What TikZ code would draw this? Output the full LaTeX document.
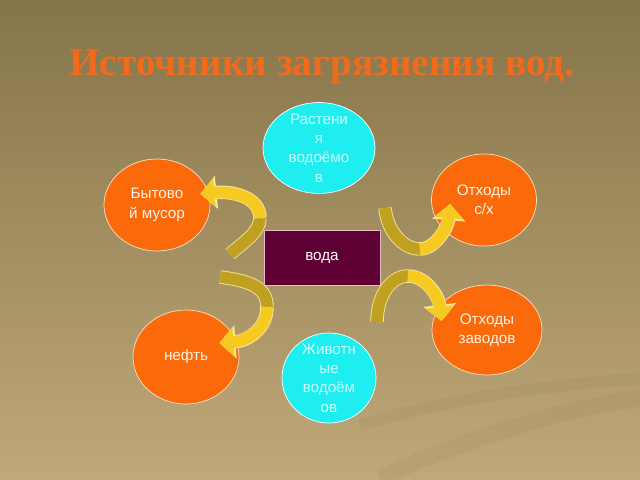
\documentclass[tikz,border=0pt]{standalone}
\usepackage{fontspec}
\setmainfont{Liberation Sans}
\newfontfamily\titlefont{Liberation Serif}
\usetikzlibrary{shapes.geometric,arrows.meta,calc}

\definecolor{bgtop}{HTML}{85754A}
\definecolor{bgbot}{HTML}{C0A878}
\definecolor{titleorange}{HTML}{F26A1C}
\definecolor{spotorange}{HTML}{FA6A0A}
\definecolor{orangeedge}{HTML}{F8E2C0}
\definecolor{orangetext}{HTML}{FFF2E6}
\definecolor{spotcyan}{HTML}{1EEEF0}
\definecolor{cyantext}{HTML}{C8FFFF}
\definecolor{watermaroon}{HTML}{5E0034}
\definecolor{wateredge}{HTML}{E8B8C8}
\definecolor{bandolive}{HTML}{BFA020}
\definecolor{bandyellow}{HTML}{F7CA22}
\definecolor{bandedge}{HTML}{F6E59A}

\tikzset{
  spot/.style={ellipse, line width=0.6pt, inner sep=0pt},
  orangespot/.style={spot, fill=spotorange, draw=orangeedge,
    label={[text=orangetext, align=center, font=\fontsize{13}{16.5}\selectfont]center:{#1}}},
  cyanspot/.style={spot, fill=spotcyan, draw=white,
    label={[text=cyantext, align=center, font=\fontsize{13}{16.5}\selectfont]center:{#1}}},
  waterbox/.style={rectangle, fill=watermaroon, draw=wateredge, line width=0.8pt,
    minimum width=3.48cm, minimum height=1.65cm, text=white, font=\fontsize{13}{16}\selectfont},
  band/.style={line width=10pt, preaction={draw=bandedge, line width=11.5pt}},
  bandhead/.style={band, -{Triangle[length=0pt 1.2, width=0pt 2.4]}},
}

\begin{document}
\begin{tikzpicture}[x=0.03cm, y=-0.03cm]
    % Фон
    \shade[top color=bgtop, bottom color=bgbot] (0,0) rectangle (640,480);
    \useasboundingbox (0,0) rectangle (640,480);
    \draw[line width=10pt, black, opacity=0.03] (360,425) .. controls (460,395) and (560,385) .. (640,378);
    \draw[line width=14pt, black, opacity=0.03] (380,478) .. controls (460,440) and (560,410) .. (640,398);

    % Заголовок
    \node (title) at (322,67) {\titlefont\bfseries\fontsize{33.5}{38}\selectfont\color{titleorange}Источники загрязнения вод.};

    % Источники
    \node[waterbox] (voda) at (322,257.5) {вода};
    \node[cyanspot={Растени\\я\\водоёмо\\в}, minimum width=3.36cm, minimum height=2.73cm] (rast) at (319,148) {};
    \node[cyanspot={Животн\\ые\\водоём\\ов}, minimum width=2.82cm, minimum height=2.7cm] (zhiv) at (329,378) {};
    \node[orangespot={Бытово\\й мусор}, minimum width=3.18cm, minimum height=2.76cm] (byt) at (157,205) {};
    \node[orangespot={нефть}, minimum width=3.18cm, minimum height=2.82cm] (neft) at (186,357) {};
    \node[orangespot={Отходы\\с/х}, minimum width=3.15cm, minimum height=2.76cm] (sx) at (484,200) {};
    \node[orangespot={Отходы\\заводов}, minimum width=3.3cm, minimum height=2.7cm] (zav) at (487,330) {};

    % Стрелки
    \coordinate (t1) at (230,254);
    \coordinate (m1) at (260,218);
    \coordinate (t2) at (220,277);
    \coordinate (m2) at (267,307);
    \coordinate (t3) at (385,208);
    \coordinate (m3) at (420,249);
    \coordinate (t4) at (377,322);
    \coordinate (m4) at (408,276);

    \draw[band, draw=bandolive] (t1) .. controls +(14,-12) and +(0,14) .. (m1);
    \draw[bandhead, draw=bandyellow] (m1) .. controls +(0,-22) and +(30,-3) .. ($(byt.east)+(-10,-11)$);

    \draw[band, draw=bandolive] (t2) .. controls +(30,4) and +(0,-20) .. (m2);
    \draw[bandhead, draw=bandyellow] (m2) .. controls +(0,22) and +(28,-2) .. ($(neft.east)+(-20,-14)$);

    \draw[band, draw=bandolive] (t3) .. controls +(2,22) and +(-18,0) .. (m3);
    \draw[bandhead, draw=bandyellow] (m3) .. controls +(16,0) and +(-2,22) .. ($(sx.west)+(19,4)$);

    \draw[band, draw=bandolive] (t4) .. controls +(0,-25) and +(-18,0) .. (m4);
    \draw[bandhead, draw=bandyellow] (m4) .. controls +(18,0) and +(-3,-25) .. ($(zav.west)+(10,-9)$);
\end{tikzpicture}
\end{document}
